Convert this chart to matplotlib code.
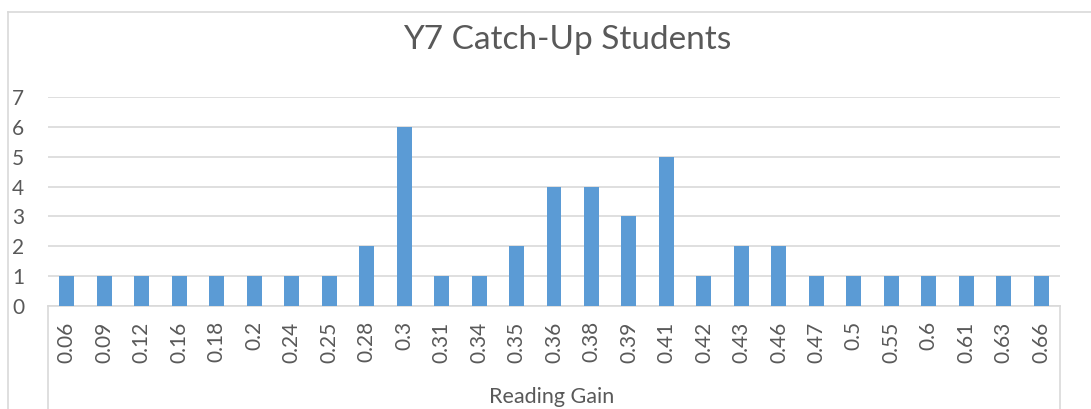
import matplotlib
matplotlib.use("Agg")
import matplotlib.pyplot as plt
from matplotlib.lines import Line2D

categories = ["0.06", "0.09", "0.12", "0.16", "0.18", "0.2", "0.24", "0.25", "0.28", "0.3",
              "0.31", "0.34", "0.35", "0.36", "0.38", "0.39", "0.41", "0.42", "0.43", "0.46",
              "0.47", "0.5", "0.55", "0.6", "0.61", "0.63", "0.66"]
counts = [1, 1, 1, 1, 1, 1, 1, 1, 2, 6,
          1, 1, 2, 4, 4, 3, 5, 1, 2, 2,
          1, 1, 1, 1, 1, 1, 1]
yticks = [0, 1, 2, 3, 4, 5, 6, 7]

plt.rcParams['font.family'] = ['Lato', 'DejaVu Sans']
W, H = 1091, 409
fig = plt.figure(figsize=(W / 100, H / 100), dpi=100)
grid_c = "#d9d9d9"
text_c = "#595959"

L, R, T, B = 48, 1060, 97, 306
ax = fig.add_axes([L / W, 1 - B / H, (R - L) / W, (B - T) / H])
x = list(range(len(categories)))
ax.bar(x, counts, width=0.4, color="#5b9bd5", zorder=3)
ax.set_xlim(-0.5, len(categories) - 0.5)
ax.set_ylim(0, 7)
ax.set_yticks(yticks)
ax.set_yticklabels([str(v) for v in yticks], fontsize=15, color=text_c)
ax.set_xticks(x)
ax.set_xticklabels(categories, rotation=90, fontsize=15, color=text_c, va='top')
ax.tick_params(axis='y', length=0, pad=17)
ax.tick_params(axis='x', length=0, pad=11)
ax.grid(axis='y', color=grid_c, linewidth=1.2, zorder=0)
for s in ['top', 'right', 'left']:
    ax.spines[s].set_visible(False)
ax.spines['bottom'].set_color(grid_c)
ax.spines['bottom'].set_linewidth(1.2)

def fx(px):
    return px / W

def fy(py):
    return 1 - py / H

# outer chart frame
fig.add_artist(Line2D([fx(8), fx(W)], [fy(12), fy(12)], color=grid_c, lw=1.2))
fig.add_artist(Line2D([fx(8), fx(8)], [fy(12), fy(H)], color=grid_c, lw=1.2))
# category axis box
fig.add_artist(Line2D([fx(L), fx(L)], [fy(B), fy(H)], color=grid_c, lw=1.2))
fig.add_artist(Line2D([fx(R), fx(R)], [fy(B), fy(H)], color=grid_c, lw=1.2))

fig.text(fx(567), fy(40), "Y7 Catch-Up Students", fontsize=24, color=text_c, ha='center', va='center')
fig.text(fx(552), fy(397), "Reading Gain", fontsize=15.5, color=text_c, ha='center', va='center')

fig.savefig("out.png", dpi=100)
